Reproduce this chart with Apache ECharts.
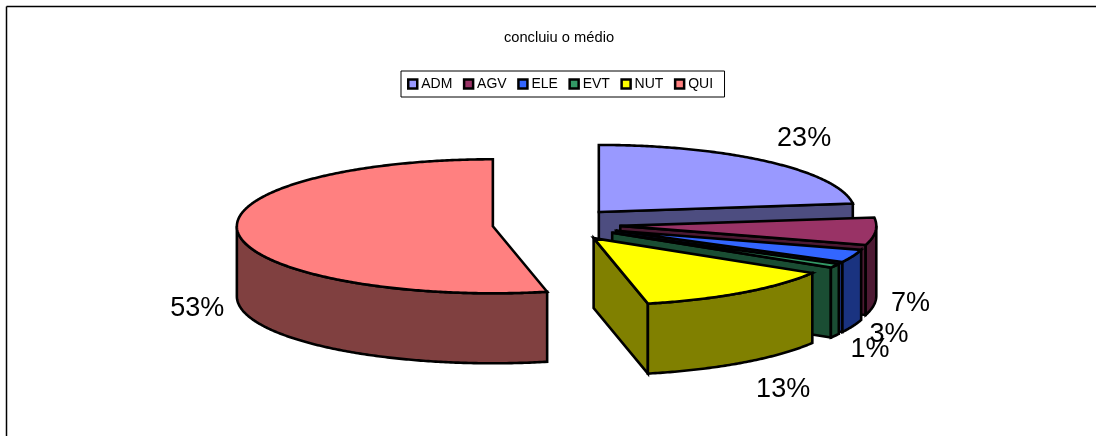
<!DOCTYPE html>
<html><head><meta charset="utf-8">
<style>html,body{margin:0;padding:0;background:#fff}#c{width:1096px;height:436px}</style>
<script src="https://cdn.jsdelivr.net/npm/echarts@6/dist/echarts.min.js"></script>
</head><body><div id="c"></div>
<script>
const titleText = 'concluiu o médio';
const categories = ['ADM', 'AGV', 'ELE', 'EVT', 'NUT', 'QUI'];
const shares = [23, 6.6, 3.1, 1, 12.9, 53.4];

const topColors = ['#9999FF', '#993366', '#3366FF', '#339966', '#FFFF00', '#FF8080'];
const wallColors = ['#4D4D80', '#4D1A33', '#1A3380', '#1A4D33', '#808000', '#804040'];
const labelNudge = [[-2, 1.5], [-3, 3.5], [-2, 0.5], [-3, 1.5], [3, 3.5], [-3, 5.5]];
const FONT = '"Liberation Sans", Arial, sans-serif';
const pie = { cx: 556.5, cy: 224.5, rx: 256, ry: 67, depth: 70, explode: 64 };
const total = shares.reduce((a, b) => a + b, 0);
const starts = [];
shares.reduce((acc, v, i) => { starts[i] = acc; return acc + v; }, 0);
const toAngle = v => v / total * 2 * Math.PI;

function rim(a, ox, oy, dz) {
  return [ox + pie.rx * Math.sin(a), oy - pie.ry * Math.cos(a) + (dz || 0)];
}
function arcPoints(a0, a1, ox, oy, dz) {
  const n = Math.max(2, Math.ceil((a1 - a0) / 0.01));
  const out = [];
  for (let k = 0; k <= n; k++) out.push(rim(a0 + (a1 - a0) * k / n, ox, oy, dz));
  return out;
}
const edge = { stroke: '#000', lineWidth: 2.6, lineJoin: 'miter', miterLimit: 10 };

function renderSlice(i, value) {
  const a0 = toAngle(starts[i]);
  const a1 = a0 + toAngle(value);
  const mid = (a0 + a1) / 2;
  const ox = pie.cx + pie.explode * Math.sin(mid);
  const oy = pie.cy - pie.explode * (pie.ry / pie.rx) * Math.cos(mid);
  const kids = [];
  const wall = Object.assign({ fill: wallColors[i] }, edge);
  // cut face that turns towards the viewer
  if (Math.sin(a1) > 0.001) {
    const p = rim(a1, ox, oy);
    kids.push({ type: 'polygon', shape: { points: [[ox, oy], p, [p[0], p[1] + pie.depth], [ox, oy + pie.depth]] }, style: wall });
  }
  // outer rim wall: only the front half is visible
  const w0 = Math.max(a0, Math.PI / 2), w1 = Math.min(a1, 1.5 * Math.PI);
  if (w1 > w0) {
    const pts = arcPoints(w0, w1, ox, oy, 0).concat(arcPoints(w0, w1, ox, oy, pie.depth).reverse());
    kids.push({ type: 'polygon', shape: { points: pts }, style: wall });
  }
  // top face
  kids.push({ type: 'polygon', shape: { points: [[ox, oy]].concat(arcPoints(a0, a1, ox, oy, 0)) },
    style: Object.assign({ fill: topColors[i] }, edge) });
  // percent label
  const r = rim(mid, ox, oy);
  const c = Math.cos(mid);
  kids.push({ type: 'text', z2: 100, style: {
    text: Math.round(value / total * 100) + '%',
    x: r[0] + 38 * Math.sign(Math.sin(mid)) + labelNudge[i][0],
    y: r[1] - 33 * c + (c < 0 ? 66 : 0) + labelNudge[i][1],
    align: 'center', verticalAlign: 'middle',
    fill: '#000', font: '27px ' + FONT } });
  return { type: 'group', children: kids };
}

const series = categories.map((name, i) => ({
  type: 'custom', name, coordinateSystem: 'none', silent: true, z: 2 + i,
  itemStyle: { color: topColors[i] },
  data: [[shares[i]]],
  renderItem: (params, api) => renderSlice(i, api.value(0))
}));

const chart = echarts.init(document.getElementById('c'), null, { renderer: 'canvas' });
chart.setOption({
  animation: false,
  backgroundColor: '#fff',
  title: { text: titleText, left: 554, top: 25, textAlign: 'center',
    textStyle: { fontFamily: FONT, fontSize: 14.7, fontWeight: 'normal', color: '#000' } },
  legend: {
    data: categories, left: 401, top: 71, orient: 'horizontal',
    padding: [6, 11.5, 6, 6], itemGap: 10.5, itemWidth: 9, itemHeight: 9, icon: 'rect',
    borderColor: '#000', borderWidth: 1, borderRadius: 0, backgroundColor: '#fff',
    itemStyle: { borderColor: '#000', borderWidth: 2.5 },
    textStyle: { fontFamily: FONT, fontSize: 14, color: '#000', padding: [0, 0, 0, -1] },
    selectedMode: false
  },
  graphic: [
    { type: 'line', silent: true, shape: { x1: 6.5, y1: 436, x2: 6.5, y2: 6.5 }, style: { stroke: '#000', lineWidth: 1.5 } },
    { type: 'line', silent: true, shape: { x1: 6.5, y1: 6.5, x2: 1096, y2: 6.5 }, style: { stroke: '#000', lineWidth: 1.5 } }
  ],
  series
});
</script></body></html>
